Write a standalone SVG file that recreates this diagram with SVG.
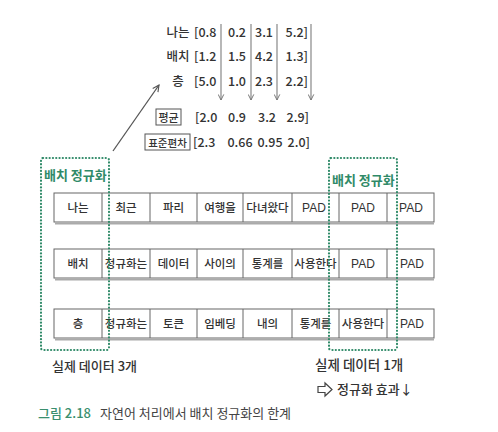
<svg xmlns="http://www.w3.org/2000/svg" width="498" height="432" viewBox="0 0 498 432">
<defs>
<style>
text{font-family:"Noto Sans CJK KR","Noto Sans",sans-serif;fill:#333;font-weight:500;}
.m{font-size:12.5px;}
.c{font-size:11.5px;text-anchor:middle;}
.pad{font-family:"Liberation Sans",sans-serif;font-size:12px;text-anchor:middle;}
.g{font-size:13px;font-weight:bold;fill:#2f8a68;}
.cell{fill:#fff;stroke:#666;stroke-width:1;}
.shadow{fill:none;stroke:#aaa;stroke-width:2;}
.dot{fill:none;stroke:#2f8a68;stroke-width:2.2;stroke-dasharray:0.1 3.2;stroke-linecap:round;}
.varr{stroke:#888;stroke-width:1.2;fill:none;}
.lbl{fill:#fff;stroke:#555;stroke-width:1;}
</style>
<marker id="ah" viewBox="0 0 10 10" refX="9" refY="5" markerWidth="7" markerHeight="7" orient="auto" markerUnits="userSpaceOnUse">
<path d="M1,1 L9,5 L1,9" fill="none" stroke="#777" stroke-width="1.4"/>
</marker>
<marker id="ah2" viewBox="0 0 10 10" refX="9" refY="5" markerWidth="8" markerHeight="8" orient="auto" markerUnits="userSpaceOnUse">
<path d="M1,1 L9,5 L1,9" fill="none" stroke="#555" stroke-width="1.4"/>
</marker>
</defs>
<rect width="498" height="432" fill="#fff"/>

<g id="matrix">
<text class="m" x="178" y="37" text-anchor="middle">나는</text>
<text class="m" x="178" y="61" text-anchor="middle">배치</text>
<text class="m" x="178" y="86" text-anchor="middle">층</text>
<text class="m" x="194" y="37">[0.8</text>
<text class="m" x="194" y="61">[1.2</text>
<text class="m" x="194" y="86">[5.0</text>
<text class="m" x="237" y="37" text-anchor="middle">0.2</text>
<text class="m" x="237" y="61" text-anchor="middle">1.5</text>
<text class="m" x="237" y="86" text-anchor="middle">1.0</text>
<text class="m" x="264" y="37" text-anchor="middle">3.1</text>
<text class="m" x="264" y="61" text-anchor="middle">4.2</text>
<text class="m" x="264" y="86" text-anchor="middle">2.3</text>
<text class="m" x="308" y="37" text-anchor="end">5.2]</text>
<text class="m" x="308" y="61" text-anchor="end">1.3]</text>
<text class="m" x="308" y="86" text-anchor="end">2.2]</text>
</g>

<g id="stats">
<g id="mean">
<rect class="lbl" x="156" y="109" width="25" height="16"/>
<text x="168.5" y="121.5" font-size="11" text-anchor="middle">평균</text>
<text class="m" x="195" y="122">[2.0</text>
<text class="m" x="237" y="122" text-anchor="middle">0.9</text>
<text class="m" x="267" y="122" text-anchor="middle">3.2</text>
<text class="m" x="309" y="122" text-anchor="end">2.9]</text>
</g>
<g id="std">
<rect class="lbl" x="145" y="134" width="45" height="16"/>
<text x="167.5" y="146.5" font-size="10.5" text-anchor="middle">표준편차</text>
<text class="m" x="193" y="147">[2.3</text>
<text class="m" x="240" y="147" text-anchor="middle">0.66</text>
<text class="m" x="270" y="147" text-anchor="middle">0.95</text>
<text class="m" x="310" y="147" text-anchor="end">2.0]</text>
</g>
</g>

<g id="row1">
<rect class="cell" x="54" y="193" width="380" height="29"/>
<line class="shadow" x1="55" y1="223.5" x2="434" y2="223.5"/>
<path d="M102,193V222M150,193V222M197,193V222M243,193V222M292,193V222M339,193V222M387,193V222" stroke="#666" fill="none"/>
<text class="c" x="78" y="212">나는</text>
<text class="c" x="126" y="212">최근</text>
<text class="c" x="173.5" y="212">파리</text>
<text class="c" x="220" y="212">여행을</text>
<text class="c" x="267.5" y="212">다녀왔다</text>
<text class="pad" x="314" y="212">PAD</text>
<text class="pad" x="363" y="212">PAD</text>
<text class="pad" x="411" y="212">PAD</text>
</g>

<g id="row2">
<rect class="cell" x="54" y="249" width="380" height="29"/>
<line class="shadow" x1="55" y1="279.5" x2="434" y2="279.5"/>
<path d="M102,249V278M150,249V278M197,249V278M243,249V278M292,249V278M339,249V278M387,249V278" stroke="#666" fill="none"/>
<text class="c" x="78" y="268">배치</text>
<text class="c" x="126" y="268">정규화는</text>
<text class="c" x="173.5" y="268">데이터</text>
<text class="c" x="220" y="268">사이의</text>
<text class="c" x="267.5" y="268">통계를</text>
<text class="c" x="315.5" y="268">사용한다</text>
<text class="pad" x="363" y="268">PAD</text>
<text class="pad" x="412" y="268">PAD</text>
</g>

<g id="row3">
<rect class="cell" x="54" y="309" width="380" height="29"/>
<line class="shadow" x1="55" y1="339.5" x2="434" y2="339.5"/>
<path d="M102,309V338M150,309V338M197,309V338M243,309V338M292,309V338M339,309V338M387,309V338" stroke="#666" fill="none"/>
<text class="c" x="78" y="328">층</text>
<text class="c" x="126" y="328">정규화는</text>
<text class="c" x="173.5" y="328">토큰</text>
<text class="c" x="220" y="328">임베딩</text>
<text class="c" x="267.5" y="328">내의</text>
<text class="c" x="315.5" y="328">통계를</text>
<text class="c" x="363" y="328">사용한다</text>
<text class="pad" x="412" y="328">PAD</text>
</g>

<g id="bn-left">
<rect class="dot" x="41" y="158" width="68" height="192" rx="2"/>
<text class="g" x="44" y="180">배치 정규화</text>
<text x="52" y="371" font-size="13">실제 데이터 3개</text>
</g>

<g id="bn-right">
<rect class="dot" x="329" y="158" width="68" height="192" rx="2"/>
<text class="g" x="332" y="185">배치 정규화</text>
<text x="315" y="370" font-size="13.5">실제 데이터 1개</text>
<path d="M318,386.5h7v-3.5l7,6.5l-7,6.5v-3.5h-7z" fill="#fff" stroke="#444" stroke-width="1.2"/>
<text x="337" y="394" font-size="13">정규화 효과↓</text>
</g>

<g id="connectors">
<line class="varr" x1="221" y1="24" x2="221" y2="100" marker-end="url(#ah)"/>
<line class="varr" x1="251" y1="24" x2="251" y2="100" marker-end="url(#ah)"/>
<line class="varr" x1="277" y1="24" x2="277" y2="100" marker-end="url(#ah)"/>
<line class="varr" x1="311" y1="24" x2="311" y2="100" marker-end="url(#ah)"/>
<line x1="113" y1="151" x2="159" y2="85" stroke="#555" stroke-width="1.3" marker-end="url(#ah2)"/>
</g>

<g id="caption">
<text x="38" y="418" font-size="13" style="fill:#3a8f6e">그림 2.18</text>
<text x="100" y="418" font-size="13" style="fill:#444;font-weight:normal">자연어 처리에서 배치 정규화의 한계</text>
</g>
</svg>
